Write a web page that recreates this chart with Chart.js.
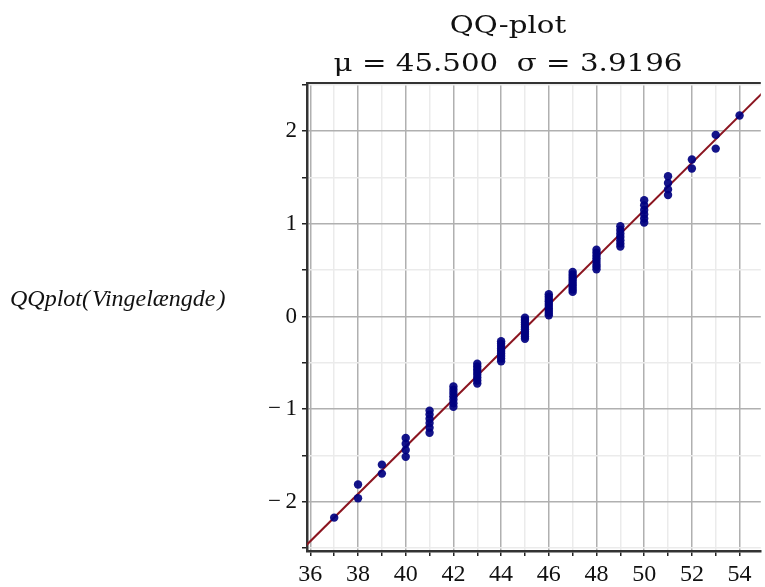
<!DOCTYPE html>
<html>
<head>
<meta charset="utf-8">
<script src="https://cdn.jsdelivr.net/npm/chart.js@4/dist/chart.umd.min.js"></script>
<style>
  html, body { margin: 0; padding: 0; background: #fff; overflow: hidden; }
  #wrap { width: 765px; height: 587px; }
</style>
</head>
<body>
<div id="wrap"><canvas id="qq" width="765" height="587"></canvas></div>
<script>
// sorted wing lengths (x) and their normal scores (y)
const wingLength = [
  36, 37, 38, 38, 39, 39, 40, 40, 40, 40,
  41, 41, 41, 41, 41, 41, 42, 42, 42, 42, 42, 42, 42,
  43, 43, 43, 43, 43, 43, 43, 43,
  44, 44, 44, 44, 44, 44, 44, 44, 44,
  45, 45, 45, 45, 45, 45, 45, 45, 45, 45,
  46, 46, 46, 46, 46, 46, 46, 46, 46, 46,
  47, 47, 47, 47, 47, 47, 47, 47, 47,
  48, 48, 48, 48, 48, 48, 48, 48,
  49, 49, 49, 49, 49, 49, 49,
  50, 50, 50, 50, 50, 50,
  51, 51, 51, 51, 52, 52, 53, 53, 54, 55
];
const normalScore = [
  -2.576, -2.170, -1.960, -1.812, -1.695, -1.598, -1.514, -1.440, -1.372, -1.311,
  -1.254, -1.200, -1.150, -1.103, -1.058, -1.015, -0.974, -0.935, -0.896, -0.860,
  -0.824, -0.789, -0.755, -0.722, -0.690, -0.659, -0.628, -0.598, -0.568, -0.539,
  -0.510, -0.482, -0.454, -0.426, -0.399, -0.372, -0.345, -0.319, -0.292, -0.266,
  -0.240, -0.215, -0.189, -0.164, -0.138, -0.113, -0.088, -0.063, -0.038, -0.013,
  0.013, 0.038, 0.063, 0.088, 0.113, 0.138, 0.164, 0.189, 0.215, 0.240,
  0.266, 0.292, 0.319, 0.345, 0.372, 0.399, 0.426, 0.454, 0.482, 0.510,
  0.539, 0.568, 0.598, 0.628, 0.659, 0.690, 0.722, 0.755, 0.789, 0.824,
  0.860, 0.896, 0.935, 0.974, 1.015, 1.058, 1.103, 1.150, 1.200, 1.254,
  1.311, 1.372, 1.440, 1.514, 1.598, 1.695, 1.812, 1.960, 2.170, 2.576
];

// reference line endpoints
const lineX = [35, 56];
const lineY = [-2.679, 2.679];

const xRange = [35.86, 54.89];
const yRange = [-2.53, 2.52];

const titleLines = ['QQ-plot', 'μ = 45.500  σ = 3.9196'];
const yAxisLabel = 'QQplot(\u200AVingelængde\u200A)';

const MAJOR = '#b0b0b0';
const MINOR = '#ebebeb';
const isInt = v => Math.abs(v - Math.round(v)) < 1e-6;

const points = wingLength.map((x, i) => ({ x: x, y: normalScore[i] }));
const refLine = lineX.map((x, i) => ({ x: x, y: lineY[i] }));

const plotText = {
  id: 'plotText',
  afterDraw(chart) {
    const { ctx, chartArea } = chart;
    ctx.save();
    // frame line on top
    ctx.strokeStyle = '#333';
    ctx.lineWidth = 2;
    ctx.beginPath();
    ctx.moveTo(chartArea.left, chartArea.top);
    ctx.lineTo(chartArea.right, chartArea.top);
    ctx.stroke();

    ctx.fillStyle = '#111';
    ctx.textAlign = 'center';
    ctx.textBaseline = 'alphabetic';
    ctx.font = '24px "DejaVu Serif"';
    titleLines.forEach((t, i) => {
      ctx.save();
      ctx.translate(508, 33 + i * 38);
      ctx.scale(1.22, 1);
      ctx.fillText(t, 0, 0);
      ctx.restore();
    });

    ctx.textAlign = 'left';
    ctx.font = 'italic 24px "Liberation Serif"';
    ctx.fillText(yAxisLabel, 10, 306);
    ctx.restore();
  }
};

new Chart(document.getElementById('qq'), {
  type: 'scatter',
  data: {
    datasets: [
      {
        data: points,
        order: 1,
        backgroundColor: 'rgba(0, 0, 128, 0.92)',
        borderColor: 'rgba(0, 0, 128, 0.92)',
        pointRadius: 4.2,
        pointHoverRadius: 4.2,
        borderWidth: 0
      },
      {
        type: 'line',
        data: refLine,
        order: 2,
        borderColor: '#8b1520',
        borderWidth: 2,
        pointRadius: 0,
        fill: false
      }
    ]
  },
  options: {
    responsive: false,
    animation: false,
    devicePixelRatio: 1,
    layout: { padding: { top: 83, left: 0, right: 0, bottom: 0 } },
    plugins: {
      legend: { display: false },
      title: { display: false },
      tooltip: { enabled: false }
    },
    scales: {
      x: {
        type: 'linear',
        min: xRange[0],
        max: xRange[1],
        afterFit: s => { s.height = 36; },
        grid: {
          color: c => (c.tick && Math.round(c.tick.value) % 2 === 0 ? MAJOR : MINOR),
          lineWidth: 1.5,
          tickColor: '#222',
          tickLength: 5
        },
        border: { color: '#333', width: 2.5 },
        ticks: {
          stepSize: 1,
          includeBounds: false,
          autoSkip: false,
          maxRotation: 0,
          padding: 4,
          color: '#111',
          font: { family: '"Liberation Serif"', size: 24 },
          callback: v => (Math.round(v) % 2 === 0 ? String(Math.round(v)) : '')
        }
      },
      y: {
        type: 'linear',
        min: yRange[0],
        max: yRange[1],
        afterFit: s => { s.width = 307; },
        grid: {
          color: c => (c.tick && isInt(c.tick.value) ? MAJOR : MINOR),
          lineWidth: 1.5,
          tickColor: '#222',
          tickLength: 5
        },
        border: { color: '#333', width: 2.5 },
        ticks: {
          stepSize: 0.5,
          includeBounds: false,
          autoSkip: false,
          padding: 5,
          color: '#111',
          font: { family: '"Liberation Serif"', size: 23 },
          callback: v => {
            if (!isInt(v)) return '';
            const n = Math.round(v);
            return n < 0 ? '\u2212\u2009' + Math.abs(n) : String(n);
          }
        }
      }
    }
  },
  plugins: [plotText]
});
</script>
</body>
</html>
